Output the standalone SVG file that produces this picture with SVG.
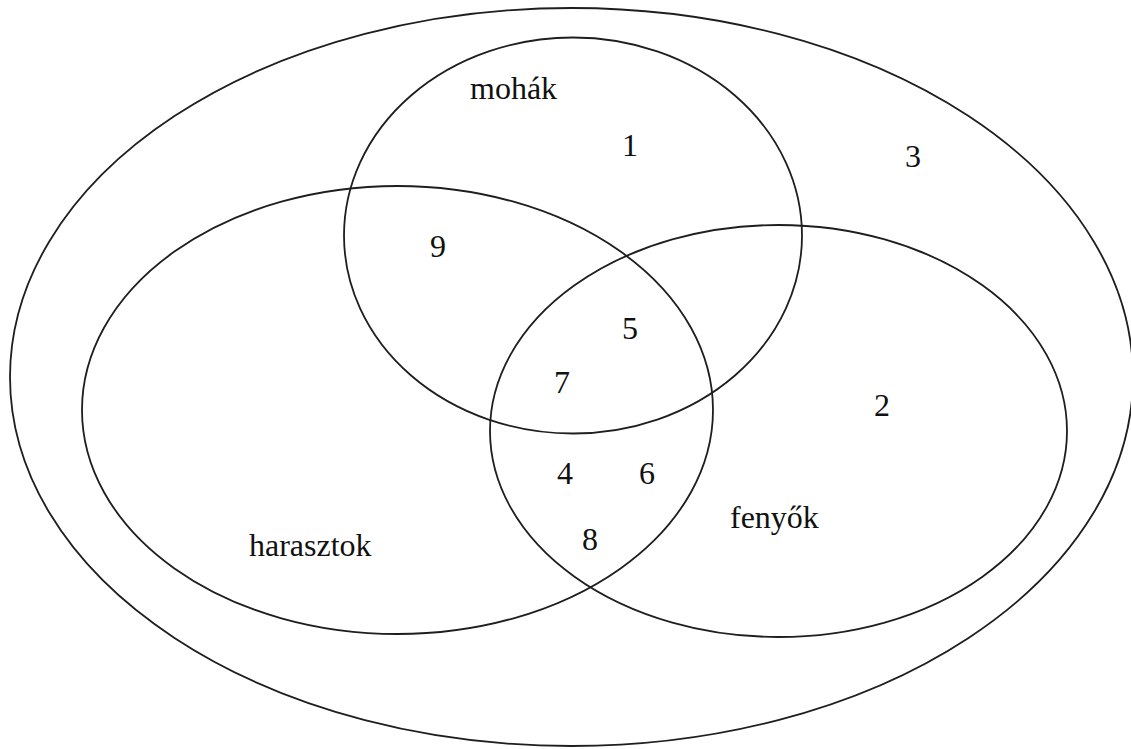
<svg xmlns="http://www.w3.org/2000/svg" width="1131" height="749" viewBox="0 0 1131 749">
<style>
.set{fill:none;stroke:#1e1e1e;stroke-width:1.8}
.t{font-family:"Liberation Serif","Times New Roman",serif;font-size:32px;fill:#111}
.n{font-family:"Liberation Serif","Times New Roman",serif;font-size:32px;fill:#111;text-anchor:middle}
</style>
<rect width="1131" height="749" fill="#fff"/>
<g id="universe">
<ellipse class="set" cx="571.5" cy="377" rx="561.5" ry="369"/>
<text class="n" x="913" y="167">3</text>
</g>
<g id="mohak">
<ellipse class="set" cx="573" cy="235.5" rx="229" ry="198"/>
<text class="t" x="470" y="99">mohák</text>
<text class="n" x="630" y="156">1</text>
</g>
<g id="harasztok">
<ellipse class="set" cx="397.5" cy="410" rx="315.5" ry="224"/>
<text class="t" x="249" y="556">harasztok</text>
</g>
<g id="fenyok">
<ellipse class="set" cx="778.5" cy="431" rx="288.5" ry="206"/>
<text class="t" x="730" y="528">fenyők</text>
<text class="n" x="882" y="416">2</text>
</g>
<g id="regions">
<text class="n" x="438" y="257">9</text>
<text class="n" x="630" y="339">5</text>
<text class="n" x="562" y="393">7</text>
<text class="n" x="565" y="484">4</text>
<text class="n" x="647" y="484">6</text>
<text class="n" x="590" y="550">8</text>
</g>
</svg>
